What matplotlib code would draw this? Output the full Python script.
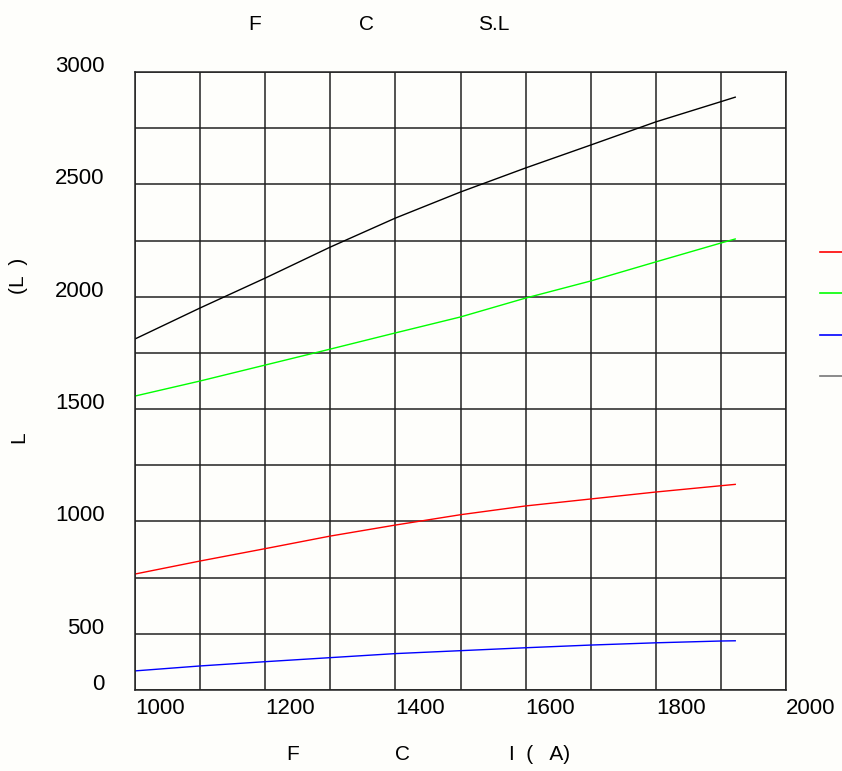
import numpy as np
import matplotlib.pyplot as plt
from matplotlib.lines import Line2D

plt.rcParams['font.family'] = ['Liberation Sans', 'DejaVu Sans']

# forward current (mA) and luminous output for four colours
current = [1000, 1100, 1200, 1300, 1400, 1500, 1600, 1700, 1800, 1900, 1922]
white = [1812, 1950, 2083, 2221, 2350, 2466, 2573, 2675, 2778, 2868, 2888]
green = [1558, 1625, 1696, 1767, 1839, 1910, 1994, 2070, 2155, 2239, 2257]
red = [766, 824, 879, 935, 984, 1030, 1069, 1100, 1131, 1159, 1165]
blue = [335, 357, 376, 394, 412, 425, 438, 450, 460, 468, 469]

series_colors = ['#ff0000', '#00ff00', '#0000ff', '#000000']
legend_colors = ['#ff0000', '#00ff00', '#0000ff', '#777777']

x_ticks = list(range(1000, 2001, 100))
x_labels = ['1000', '', '1200', '', '1400', '', '1600', '', '1800', '', '2000']
y_ticks = list(range(250, 3001, 250))
y_labels = ['0', '500', '', '1000', '', '1500', '', '2000', '', '2500', '', '3000']

bg = '#fefefb'
W, H = 842, 771
fig = plt.figure(figsize=(W / 100, H / 100), dpi=100, facecolor=bg)
ax = fig.add_axes([135 / W, 1 - 690 / H, (786 - 135) / W, (690 - 72) / H])
ax.set_facecolor(bg)

for ys, c in zip([red, green, blue, white], series_colors):
    ax.plot(current, ys, color=c, lw=1.0)

ax.set_xlim(1000, 2000)
ax.set_ylim(250, 3000)
ax.set_xticks(x_ticks)
ax.set_xticklabels(x_labels, ha='left', fontsize=16)
ax.set_yticks(y_ticks)
ax.set_yticklabels(y_labels, va='baseline', fontsize=16)
ax.tick_params(length=0)
ax.tick_params(axis='x', pad=6)
ax.tick_params(axis='y', pad=22)
ax.grid(True, color='#222222', lw=1.1)
for s in ax.spines.values():
    s.set_color('#222222')
    s.set_linewidth(1.1)

def ftext(px, py, s, **kw):
    fig.text(px / W, 1 - py / H, s, ha='center', va='center', fontsize=15, **kw)

# title and axis captions (only the latin parts survive)
ftext(255, 25, 'F')
ftext(367, 25, 'C')
ftext(494, 25, 'S.L')
ftext(293, 755, 'F')
ftext(403, 755, 'C')
ftext(540, 755, 'I  (   A)')
ftext(19, 437, 'L', rotation=90)
ftext(19, 276, '(L  )', rotation=90)

# legend keys, cut at the right edge
for i, c in enumerate(legend_colors):
    y = 1 - (252 + i * 41.3) / H
    fig.add_artist(Line2D([820 / W, 1.0], [y, y], color=c, lw=1.2))

fig.savefig('out.png', dpi=100, facecolor=bg)
